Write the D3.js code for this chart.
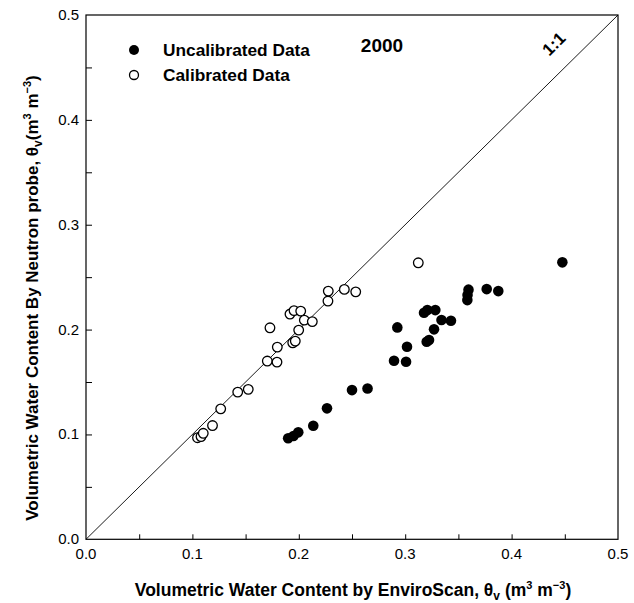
<!DOCTYPE html>
<html><head><meta charset="utf-8">
<script src="https://cdn.jsdelivr.net/npm/d3@7"></script>
<style>
body{margin:0;background:#fff;}
svg{display:block;font-family:"Liberation Sans",Arial,Helvetica,sans-serif;}
</style></head>
<body>
<svg id="c" width="634" height="603"></svg>
<script>
// Uncalibrated data (EnviroScan, Neutron probe)
const uncalX = [0.190,0.195,0.1995,0.2136,0.2265,0.250,0.2646,0.2895,0.2926,0.3008,0.3017,0.3202,0.3224,0.3271,0.3177,0.3208,0.3283,0.3341,0.343,0.3584,0.3586,0.3595,0.3766,0.3875,0.4477];
const uncalY = [0.0963,0.0985,0.102,0.1083,0.1249,0.1423,0.1438,0.1703,0.2021,0.1693,0.1836,0.1884,0.190,0.2002,0.216,0.2186,0.2186,0.2092,0.2084,0.2281,0.2329,0.2381,0.2386,0.2367,0.2641];
// Calibrated data
const calX = [0.1048,0.1081,0.1102,0.1189,0.1266,0.1426,0.1525,0.1704,0.1795,0.1798,0.1729,0.1943,0.1967,0.1999,0.1917,0.1955,0.2018,0.2052,0.2127,0.2274,0.2277,0.2428,0.2535,0.3123];
const calY = [0.0969,0.0980,0.1011,0.1085,0.1244,0.1404,0.143,0.170,0.169,0.1833,0.2017,0.1874,0.189,0.1995,0.2148,0.2181,0.2176,0.209,0.2076,0.2272,0.2367,0.2383,0.236,0.2637];
const majorTicks = [0.0,0.1,0.2,0.3,0.4,0.5];
const minorTicks = [0.05,0.15,0.25,0.35,0.45];
const tickLabels = ["0.0","0.1","0.2","0.3","0.4","0.5"];
const legendLabels = ["Uncalibrated Data","Calibrated Data"];
const yearLabel = "2000";
const lineLabel = "1:1";

const svg = d3.select("#c");
const L=86, T=15, R=618, B=539.3;
const x = d3.scaleLinear().domain([0,0.5]).range([L,R]);
const y = d3.scaleLinear().domain([0,0.5]).range([B,T]);

// frame
svg.append("rect").attr("x",L).attr("y",T).attr("width",R-L).attr("height",B-T)
  .attr("fill","none").attr("stroke","#000").attr("stroke-width",1.2);

// axes with inward ticks
const allTicks = majorTicks.concat(minorTicks).filter(v=>v>0 && v<0.5);
const xAxis = d3.axisBottom(x).tickValues(allTicks).tickSize(-5).tickFormat("");
const gx = svg.append("g").attr("transform",`translate(0,${B})`).call(xAxis);
gx.select(".domain").remove();
gx.selectAll("line").attr("stroke","#000").attr("stroke-width",1);
const yAxis = d3.axisLeft(y).tickValues(allTicks).tickSize(-6).tickFormat("");
const gy = svg.append("g").attr("transform",`translate(${L},0)`).call(yAxis);
gy.select(".domain").remove();
gy.selectAll("line").attr("stroke","#000").attr("stroke-width",1);

// tick labels
svg.append("g").selectAll("text").data(majorTicks).join("text")
  .attr("x",d=>x(d)).attr("y",B+20).attr("text-anchor","middle")
  .attr("font-size",15).text((d,i)=>tickLabels[i]);
svg.append("g").selectAll("text").data(majorTicks).join("text")
  .attr("x",L-7).attr("y",d=>y(d)+5).attr("text-anchor","end")
  .attr("font-size",15).text((d,i)=>tickLabels[i]);

// 1:1 line
svg.append("line").attr("x1",x(0)).attr("y1",y(0)).attr("x2",x(0.5)).attr("y2",y(0.5))
  .attr("stroke","#000").attr("stroke-width",0.9);

// points
const unc = uncalX.map((v,i)=>[v,uncalY[i]]);
const cal = calX.map((v,i)=>[v,calY[i]]);
svg.append("g").selectAll("circle").data(unc).join("circle")
  .attr("cx",d=>x(d[0])).attr("cy",d=>y(d[1])).attr("r",5.3).attr("fill","#000");
svg.append("g").selectAll("circle").data(cal).join("circle")
  .attr("cx",d=>x(d[0])).attr("cy",d=>y(d[1])).attr("r",4.8)
  .attr("fill","#fff").attr("stroke","#000").attr("stroke-width",1.3);

// legend
svg.append("circle").attr("cx",134).attr("cy",50).attr("r",5).attr("fill","#000");
svg.append("circle").attr("cx",134).attr("cy",75).attr("r",4.5).attr("fill","#fff").attr("stroke","#000").attr("stroke-width",1.3);
svg.append("text").attr("x",163).attr("y",56).attr("font-size",17.3).attr("font-weight","bold").text(legendLabels[0]);
svg.append("text").attr("x",163).attr("y",81).attr("font-size",17.3).attr("font-weight","bold").text(legendLabels[1]);
svg.append("text").attr("x",382).attr("y",52).attr("text-anchor","middle").attr("font-size",19).attr("font-weight","bold").text(yearLabel);
svg.append("text").attr("transform","translate(558,48) rotate(-45)").attr("text-anchor","middle")
  .attr("font-size",17).attr("font-weight","bold").text(lineLabel);

// axis titles
const xt = svg.append("text").attr("x",353).attr("y",596).attr("text-anchor","middle")
  .attr("font-size",17.5).attr("font-weight","bold");
xt.append("tspan").text("Volumetric Water Content by EnviroScan, θ");
xt.append("tspan").attr("font-size",12).attr("dy",4).text("v");
xt.append("tspan").attr("dy",-4).text(" (m");
xt.append("tspan").attr("font-size",11).attr("dy",-7).text("3");
xt.append("tspan").attr("dy",7).text(" m");
xt.append("tspan").attr("font-size",11).attr("dy",-7).text("−3");
xt.append("tspan").attr("dy",7).text(")");

const yt = svg.append("text").attr("transform","translate(38,298) rotate(-90)").attr("text-anchor","middle")
  .attr("font-size",17).attr("font-weight","bold");
yt.append("tspan").text("Volumetric Water Content By Neutron probe, θ");
yt.append("tspan").attr("font-size",12).attr("dy",4).text("v");
yt.append("tspan").attr("dy",-4).text("(m");
yt.append("tspan").attr("font-size",11).attr("dy",-7).text("3");
yt.append("tspan").attr("dy",7).text(" m");
yt.append("tspan").attr("font-size",11).attr("dy",-7).text("−3");
yt.append("tspan").attr("dy",7).text(")");
</script>
</body></html>
